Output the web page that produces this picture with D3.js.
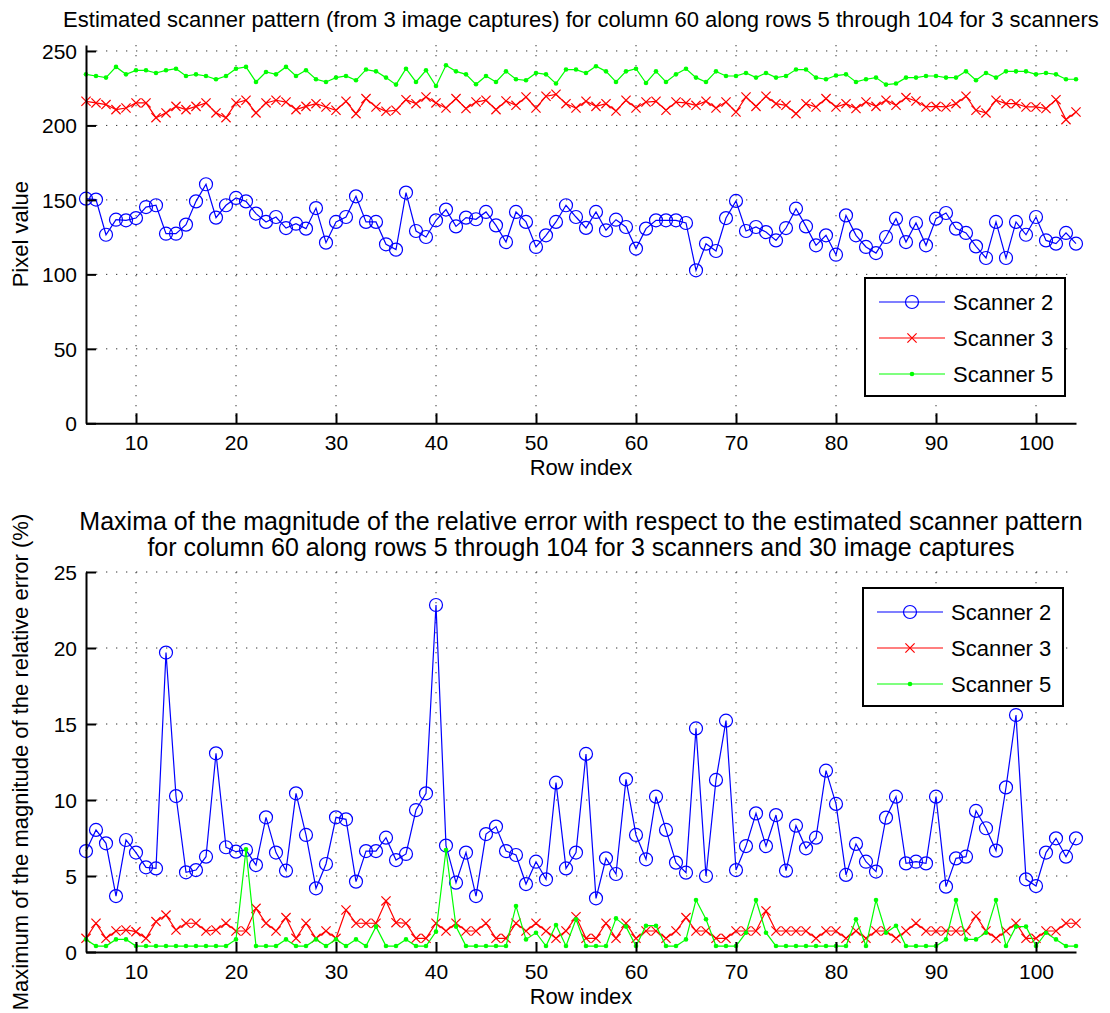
<!DOCTYPE html>
<html>
<head>
<meta charset="utf-8">
<script src="https://cdn.jsdelivr.net/npm/d3@7"></script>
<style>
  body { margin: 0; background: #fff; }
  text { font-family: "Liberation Sans", Arial, sans-serif; fill: #000; }
</style>
</head>
<body>
<script>
// row indices on the x axis
var rows = d3.range(5, 105);

var seriesNames = ["Scanner 2", "Scanner 3", "Scanner 5"];

// top panel: estimated scanner pattern (pixel value)
var patternScanner2 = [150.8,150.2,126.6,136.7,136.3,137.8,145.2,146.4,127.3,127.3,133.4,149,160.5,138.1,146.4,151.3,149,140.8,135.2,138.5,131.1,134,130.7,144.5,121.3,135.2,
  138.5,152.4,135.2,135.2,120.2,116.6,154.9,129.1,125.1,136.3,143.5,132.2,138.1,137,141.9,132.9,121.7,141.9,135.2,118.4,126.2,135.2,146.4,138.5,131.2,
  141.9,129.6,136.7,131.8,117.3,130.7,136.3,136.3,136.3,134.5,102.7,120.6,115.7,137.8,149.3,129.1,131.8,128.4,122.8,131.1,144.1,132.2,119.5,126.2,113.2,
  139.6,126.2,118.4,114.3,125.1,137.4,121.7,134.5,119.5,137.4,141.2,130.7,127.8,118.8,111,135.2,111,135.2,126.6,138.5,122.8,120.6,127.8,120.6];
var patternScanner3 = [216.2,215.1,214,210.6,211.7,215.1,215.1,205.2,208.4,212.8,210.6,212.8,215.1,208.4,205.2,215.1,216.9,208.4,215.1,216.9,215.7,210.6,212.8,214.6,212.4,210.2,
  216.2,207.9,218,212.4,209.5,210.2,217.3,214.6,219.1,215.1,211.7,218,211.3,215.7,216.9,210.6,216.4,213.5,219.1,211.7,219.6,220.9,214.6,211.7,216.2,
  212.8,214.6,209.7,216.9,211.7,215.7,216.2,210.2,215.7,215.1,213.5,216.2,211.7,215.7,209,219.1,212.8,219.6,214.6,213.5,207.9,214.6,212.4,218,212.4,
  214.6,211.3,215.7,212.8,216.9,213.5,218.7,216.4,212.4,212.8,212.4,214.6,219.6,210.2,208.4,216.9,214.6,214.6,212.4,212.4,211.3,217.3,203.9,209];
var patternScanner5 = [234.3,233.2,232.1,239.3,234.3,237,237,235.2,237,238.1,233.2,234.3,233.2,231,233.2,238.1,239.3,229.2,235.9,234.3,239.3,233.2,237,231,229.2,232.1,
  233.2,230.3,237.5,236.3,232.1,227.4,238.1,229.2,237,226.5,240.4,236.3,234.3,227.6,233.2,229.2,236.3,231,230.3,235.2,234.3,228.1,237.5,237.5,235.2,
  239.7,236.3,229.2,236.3,238.1,228.5,236.3,229.2,234.3,238.1,232.1,229.2,236.3,233.2,233.2,235.2,232.1,235.2,232.1,233.2,237.5,237.5,232.1,231,233.5,
  234.3,229.2,231,232.1,227.4,228.1,232.1,232.1,233.2,233.2,232.1,232.1,236.3,230.3,235.2,232.1,236.3,236.3,236.3,234.3,235.2,234.3,231,231];

// bottom panel: maximum relative error (%)
var errorScanner2 = [6.64,8.03,7.15,3.68,7.37,6.54,5.57,5.5,19.7,10.26,5.24,5.39,6.27,13.07,6.89,6.6,6.71,5.72,8.86,6.54,5.35,10.44,7.7,4.19,5.79,8.86,
  8.73,4.63,6.64,6.64,7.52,6.05,6.45,9.34,10.44,22.83,7.0,4.56,6.54,3.68,7.76,8.25,6.64,6.38,4.47,5.94,4.78,11.14,5.5,6.54,13.03,
  3.53,6.16,5.13,11.36,7.7,6.1,10.22,8.03,5.88,5.22,14.71,5.0,11.32,15.22,5.39,6.97,9.12,6.97,9.01,5.35,8.31,6.82,7.52,11.93,9.74,
  5.07,7.11,5.94,5.29,8.84,10.22,5.83,5.94,5.83,10.22,4.3,6.16,6.27,9.28,8.14,6.67,10.83,15.59,4.78,4.34,6.54,7.48,6.27,7.48];
var errorScanner3 = [0.9,1.89,0.9,1.38,1.45,1.34,0.9,2.0,2.43,1.45,1.89,1.89,1.38,1.45,1.89,1.38,1.38,2.87,1.89,1.38,2.26,0.9,1.89,0.9,1.38,0.9,
  2.76,1.89,1.89,1.89,3.36,1.93,1.89,0.9,0.9,1.89,1.38,1.89,1.38,1.38,1.89,0.9,0.9,1.89,1.38,1.89,1.38,0.9,1.38,2.32,0.9,
  0.9,1.89,0.9,1.89,0.9,1.38,1.38,0.9,1.38,2.26,1.38,1.38,0.9,0.9,1.38,1.38,1.38,2.7,1.38,1.38,1.38,1.38,0.9,1.38,1.38,
  0.9,1.38,0.9,1.38,1.38,0.9,1.38,1.89,1.38,1.38,1.38,1.38,1.38,2.37,1.38,0.9,1.38,1.89,0.9,0.9,1.38,1.38,1.89,1.89];
var errorScanner5 = [0.83,0.39,0.39,0.83,0.83,0.39,0.39,0.39,0.39,0.39,0.39,0.39,0.39,0.39,0.39,0.83,6.75,0.39,0.39,0.39,0.83,0.39,0.39,0.83,0.39,0.83,
  0.39,0.83,0.39,1.67,0.39,0.39,0.83,0.39,0.39,1.34,6.71,1.67,0.39,0.39,0.39,0.39,0.39,3.03,0.83,1.27,0.39,1.78,0.39,2.15,0.39,
  0.39,0.39,2.21,1.67,0.39,1.73,1.73,0.39,0.39,0.83,3.42,2.15,0.39,0.39,0.39,1.27,3.42,1.27,0.39,0.39,0.39,0.39,0.39,0.39,0.39,
  0.39,2.15,0.39,3.42,1.27,1.73,0.39,0.39,0.39,0.39,0.83,3.42,0.83,0.83,1.27,3.42,0.39,1.67,1.67,0.39,1.27,0.83,0.39,0.39];

var xTicks = [10, 20, 30, 40, 50, 60, 70, 80, 90, 100];
var patternTicks = [0, 50, 100, 150, 200, 250];
var errorTicks = [0, 5, 10, 15, 20, 25];

var colors = ["#0000ff", "#ff0000", "#00ff00"];
var markers = ["circle", "x", "dot"];

var width = 1110, height = 1013;
var svg = d3.select("body").append("svg")
    .attr("width", width)
    .attr("height", height);

var x = d3.scaleLinear().domain([5, 104]).range([86, 1076]);

function drawMarker(g, type, color, px, py) {
  if (type == "circle") {
    g.append("circle").attr("cx", px).attr("cy", py).attr("r", 6.5)
      .attr("fill", "none").attr("stroke", color).attr("stroke-width", 1.2);
  } else if (type == "x") {
    var s = 4.6;
    g.append("path")
      .attr("d", "M" + (px - s) + "," + (py - s) + "L" + (px + s) + "," + (py + s) +
                 "M" + (px - s) + "," + (py + s) + "L" + (px + s) + "," + (py - s))
      .attr("stroke", color).attr("stroke-width", 1.2).attr("fill", "none");
  } else {
    g.append("circle").attr("cx", px).attr("cy", py).attr("r", 2.3).attr("fill", color);
  }
}

function drawPanel(opts) {
  var g = svg.append("g");
  var y = d3.scaleLinear().domain(opts.yDomain).range([opts.bottom, opts.top]);

  // dotted grid
  g.selectAll(".vgrid").data(xTicks).enter().append("line")
      .attr("x1", d => x(d)).attr("x2", d => x(d))
      .attr("y1", opts.top).attr("y2", opts.bottom)
      .attr("stroke", "#333").attr("stroke-width", 1).attr("stroke-dasharray", "1.3,8.7");
  g.selectAll(".hgrid").data(opts.yTicks.filter(d => d > 0)).enter().append("line")
      .attr("x1", x.range()[0]).attr("x2", x.range()[1])
      .attr("y1", d => y(d)).attr("y2", d => y(d))
      .attr("stroke", "#333").attr("stroke-width", 1).attr("stroke-dasharray", "1.3,8.7");

  var line = d3.line().x((d, i) => x(rows[i])).y(d => y(d));

  opts.series.forEach(function(vals, k) {
    g.append("path").datum(vals)
      .attr("d", line)
      .attr("fill", "none")
      .attr("stroke", colors[k])
      .attr("stroke-width", 1.2);
    var mg = g.append("g");
    vals.forEach(function(v, i) {
      drawMarker(mg, markers[k], colors[k], x(rows[i]), y(v));
    });
  });

  // axes: left and bottom only, ticks inward
  var yAxis = d3.axisLeft(y).tickValues(opts.yTicks).tickSize(-10).tickPadding(20).tickSizeOuter(0);
  var ya = g.append("g").attr("transform", "translate(" + x.range()[0] + ",0)").call(yAxis);
  var xAxis = d3.axisBottom(x).tickValues(xTicks).tickSize(-10).tickPadding(20).tickSizeOuter(0);
  var xa = g.append("g").attr("transform", "translate(0," + opts.bottom + ")").call(xAxis);
  [ya, xa].forEach(function(a) {
    a.select(".domain").attr("stroke", "#000").attr("stroke-width", 2);
    a.selectAll(".tick line").attr("stroke", "#000").attr("stroke-width", 2);
    a.selectAll(".tick text").attr("font-size", 21).attr("font-family", "Liberation Sans, Arial, sans-serif");
  });
  ya.selectAll(".tick text").attr("x", -9).attr("dy", "0.35em");
  xa.selectAll(".tick text").attr("y", 27).attr("dy", null);

  // titles and labels
  var cx = (x.range()[0] + x.range()[1]) / 2;
  opts.title.forEach(function(t, i) {
    g.append("text").attr("x", cx).attr("y", opts.titleY + i * 26)
      .attr("text-anchor", "middle").attr("font-size", opts.titleSize).text(t);
  });
  g.append("text").attr("x", cx).attr("y", opts.bottom + 52)
    .attr("text-anchor", "middle").attr("font-size", 22).text("Row index");
  g.append("text")
    .attr("transform", "translate(28," + ((opts.top + opts.bottom) / 2) + ") rotate(-90)")
    .attr("text-anchor", "middle").attr("font-size", 22).text(opts.yLabel);

  // legend
  var lg = g.append("g").attr("transform", "translate(" + opts.legend[0] + "," + opts.legend[1] + ")");
  lg.append("rect").attr("width", 200).attr("height", 118)
    .attr("fill", "#fff").attr("stroke", "#000").attr("stroke-width", 2);
  seriesNames.forEach(function(name, k) {
    var ly = 24 + k * 36;
    lg.append("line").attr("x1", 14).attr("x2", 80).attr("y1", ly).attr("y2", ly)
      .attr("stroke", colors[k]).attr("stroke-width", 1.2);
    drawMarker(lg, markers[k], colors[k], 47, ly);
    lg.append("text").attr("x", 88).attr("y", ly).attr("dy", "0.35em")
      .attr("font-size", 22).text(name);
  });
}

drawPanel({
  top: 45, bottom: 423.3,
  yDomain: [0, 254],
  yTicks: patternTicks,
  series: [patternScanner2, patternScanner3, patternScanner5],
  title: ["Estimated scanner pattern (from 3 image captures) for column 60 along rows 5 through 104 for 3 scanners"],
  titleY: 27,
  titleSize: 22,
  yLabel: "Pixel value",
  legend: [865, 278]
});

drawPanel({
  top: 572, bottom: 952,
  yDomain: [0, 25],
  yTicks: errorTicks,
  series: [errorScanner2, errorScanner3, errorScanner5],
  title: ["Maxima of the magnitude of the relative error with respect to the estimated scanner pattern",
          "for column 60 along rows 5 through 104 for 3 scanners and 30 image captures"],
  titleY: 530,
  titleSize: 25,
  yLabel: "Maximum of the magnitude of the relative error (%)",
  legend: [863, 588]
});
</script>
</body>
</html>
